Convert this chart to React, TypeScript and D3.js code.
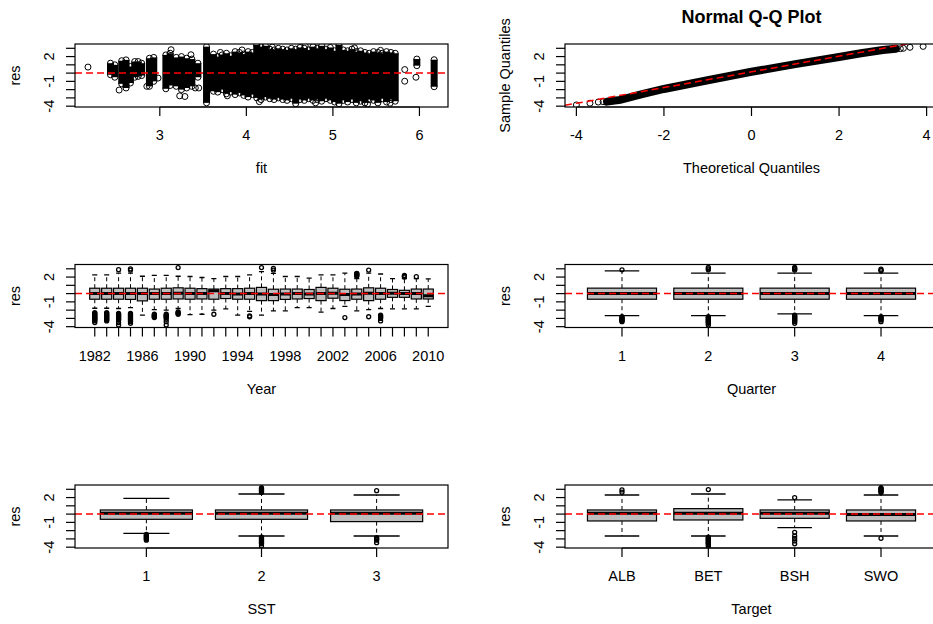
import React from 'react';
import * as d3 from 'd3';

const W = 933;
const H = 624;
const FONT = '"Liberation Sans", Arial, Helvetica, sans-serif';

// layout of the 3x2 grid of plot regions (R mfrow style)
const LEFT = [75, 565];
const TOP = [44, 264.5, 485];
const PW = 373;
const PH = 63;
const RES_DOMAIN: [number, number] = [-4.1, 3.52];

// residual axis
const resTicks = [-4, -3, -2, -1, 0, 1, 2, 3];
const resLabels = [-4, -1, 2];

// panel 1: fitted vs residuals
const fitTicks = [3, 4, 5, 6];
const colFit = [2.43, 2.48, 2.56, 2.61, 2.66, 2.71, 2.75, 2.79, 2.88, 2.93, 3.07, 3.12, 3.19, 3.25, 3.31, 3.37, 3.44, 3.54,
  3.62, 3.67, 3.72, 3.77, 3.82, 3.87, 3.92, 3.97, 4.02, 4.07, 4.12, 4.17, 4.22, 4.27, 4.32, 4.37, 4.42, 4.47, 4.52,
  4.57, 4.62, 4.67, 4.72, 4.77, 4.82, 4.87, 4.92, 4.97, 5.02, 5.07, 5.12, 5.17, 5.22, 5.27, 5.32, 5.37, 5.42, 5.47,
  5.52, 5.57, 5.62, 5.67, 5.72, 5.97, 6.17];
const colLo = [-0.2, -0.5, -1.3, -1.8, -1.2, -0.5, -0.4, -0.3, -1.6, -1.0, -1.9, -1.5, -1.6, -2.0, -1.8, -1.6, -0.5, -3.6,
  -2.2, -2.3, -2.0, -2.5, -2.3, -2.6, -2.4, -2.7, -2.9, -2.6, -3.0, -3.2, -2.9, -3.1, -3.2, -3.0, -3.2, -3.3, -3.1,
  -3.7, -3.2, -3.3, -3.1, -3.3, -3.2, -3.4, -3.1, -3.3, -3.5, -3.7, -3.3, -3.5, -3.2, -3.6, -3.4, -3.6, -3.2, -3.3,
  -3.6, -3.1, -3.5, -3.2, -3.4, 0.9, -1.65];
const colHi = [1.2, 1.0, 1.5, 1.6, 0.8, 1.4, 1.4, 1.2, 1.8, 1.9, 2.2, 2.4, 1.9, 2.0, 1.8, 1.7, 1.2, 3.2,
  2.3, 2.0, 2.2, 2.4, 2.1, 2.6, 2.5, 2.3, 2.6, 2.5, 3.4, 3.2, 3.3, 2.9, 2.8, 3.0, 2.9, 2.8, 3.0,
  2.9, 3.1, 3.0, 2.8, 3.2, 3.0, 3.3, 2.9, 3.1, 2.7, 3.4, 2.8, 2.7, 2.9, 2.6, 2.7, 2.5, 2.4, 2.6,
  2.5, 2.4, 2.6, 2.5, 2.4, 1.7, 1.62];
const loneFit = [2.17, 2.53, 2.85, 2.98, 3.13, 3.23, 3.29, 3.36, 3.41, 3.45, 5.83, 5.83, 5.96,
  3.7, 3.95, 4.3, 4.68, 5.25, 5.55, 3.78, 4.15, 4.8, 5.4, 5.66];
const loneRes = [0.73, -2.05, -1.6, -0.6, 2.83, -2.75, -2.83, 2.22, -1.8, -1.8, 0.43, -0.98, -0.5,
  2.5, 2.8, 3.15, 3.3, 3.05, 2.75, -2.75, -3.45, -3.6, -3.75, -3.65];

// panel 2: normal Q-Q
const qqTicks = [-4, -2, 0, 2, 4];
const qqBandTheo = [-3.3, -3.0, -2.5, -2.0, -1.0, 0.0, 1.0, 2.0, 2.5, 3.0, 3.3];
const qqBandSample = [-3.45, -3.24, -2.55, -1.92, -0.86, 0.16, 1.08, 1.94, 2.4, 2.8, 2.95];
const qqTailTheo = [-4.0, -3.69, -3.5, -3.39, 3.4, 3.47, 3.62, 3.92];
const qqTailSample = [-3.85, -3.64, -3.5, -3.45, 2.95, 3.0, 3.12, 3.23];
const qqIntercept = 0.15;
const qqSlope = 0.95;

// panel 3: Year
const years = d3.range(1982, 2011);
const yearHi = [2.27, 2.27, 2.47, 2.47, 2.1, 2.2, 2.2, 2.1, 2.07, 1.95, 1.8, 2.07, 2.07, 2.27, 2.67, 2.45, 2.07, 2.07, 1.87, 2.27, 2.27, 2.47, 1.8, 2.47, 2.37, 1.8, 1.8, 1.8, 1.78];
const yearQ3 = [0.65, 0.65, 0.65, 0.65, 0.65, 0.55, 0.65, 0.7, 0.65, 0.6, 0.55, 0.6, 0.6, 0.65, 0.75, 0.53, 0.55, 0.55, 0.5, 0.75, 0.65, 0.53, 0.55, 0.7, 0.65, 0.5, 0.4, 0.55, 0.55];
const yearMed = [0, 0, 0, 0, 0, 0, 0, 0.05, 0, 0, 0.35, 0, -0.05, 0, -0.05, -0.1, -0.05, 0, -0.05, 0, 0.05, -0.1, -0.05, 0.05, 0, 0.05, 0, 0, -0.25];
const yearQ1 = [-0.68, -0.68, -0.68, -0.7, -0.88, -0.68, -0.68, -0.65, -0.68, -0.65, -0.68, -0.6, -0.68, -0.68, -0.85, -0.85, -0.7, -0.65, -0.6, -0.85, -0.56, -0.84, -0.68, -0.85, -0.68, -0.45, -0.45, -0.65, -0.65];
const yearLo = [-1.77, -1.77, -1.8, -1.7, -2.6, -1.95, -2.0, -1.8, -2.55, -2.5, -2.0, -1.85, -2.6, -2.15, -2.6, -2.1, -2.1, -1.7, -1.7, -2.25, -1.8, -1.55, -2.1, -1.95, -1.8, -1.85, -1.85, -1.85, -1.55];
const yearOut = [
  [-2.3, -2.4, -2.5, -2.6, -2.7, -2.8, -2.9, -3.0, -3.1, -3.2, -3.3, -3.5],
  [-2.3, -2.4, -2.5, -2.6, -2.7, -2.8, -2.9, -3.0, -3.1, -3.2, -3.3],
  [2.9, -2.4, -2.5, -2.6, -2.7, -2.8, -2.9, -3.0, -3.1, -3.2, -3.5, -3.8],
  [3.0, 2.85, -2.4, -2.5, -2.6, -2.7, -2.8, -2.9, -3.0, -3.1, -3.2, -3.3, -3.4, -3.6],
  [],
  [-2.5, -2.6, -2.7, -2.8, -2.9],
  [-2.5, -2.6, -2.7, -2.8, -2.9, -3.1, -3.4, -3.8],
  [3.15, -2.2, -2.3, -2.4, -2.5],
  [], [],
  [-2.5],
  [], [],
  [-2.7, -2.8],
  [3.15],
  [2.85, 3.05],
  [], [], [], [], [],
  [-2.9],
  [2.1, 2.2, 2.3, 2.4, 2.45],
  [2.85, -2.8],
  [-2.6, -2.7, -2.8, -2.9, -3.0, -3.3],
  [],
  [2.0, 2.1, 2.2],
  [2.05],
  [],
];

// panel 4: Quarter
const quarters = ['1', '2', '3', '4'];
const qHi = [2.75, 2.47, 2.47, 2.47];
const qQ3 = [0.66, 0.66, 0.66, 0.66];
const qMed = [0, 0, 0, 0];
const qQ1 = [-0.68, -0.68, -0.68, -0.68];
const qLo = [-2.66, -2.66, -2.46, -2.66];
const qOut = [
  [2.88, -2.8, -2.9, -3.0, -3.1, -3.2, -3.3, -3.4],
  [3.16, 3.0, 2.88, -2.8, -2.9, -3.0, -3.1, -3.2, -3.3, -3.4, -3.5, -3.6, -3.8],
  [3.16, 3.05, 2.95, 2.85, -2.6, -2.7, -2.8, -2.9, -3.0, -3.1, -3.2, -3.3, -3.4, -3.6],
  [2.95, 2.85, 2.75, -2.8, -2.9, -3.0, -3.1, -3.2, -3.4],
];

// panel 5: SST
const sstLevels = ['1', '2', '3'];
const sHi = [1.91, 2.43, 2.31];
const sQ3 = [0.5, 0.5, 0.5];
const sMed = [0.09, 0.09, 0.09];
const sQ1 = [-0.63, -0.63, -0.91];
const sLo = [-2.33, -2.65, -2.65];
const sOut = [
  [-2.45, -2.55, -2.65, -2.75, -2.85, -2.95, -3.05, -3.15],
  [3.2, 3.1, 3.0, 2.9, 2.8, 2.7, 2.6, -2.8, -2.9, -3.0, -3.1, -3.2, -3.3, -3.4, -3.5, -3.6, -3.85],
  [2.83, -2.85, -2.95, -3.05, -3.15, -3.45],
];

// panel 6: Target
const targets = ['ALB', 'BET', 'BSH', 'SWO'];
const tHi = [2.31, 2.43, 1.71, 2.31];
const tQ3 = [0.5, 0.66, 0.5, 0.5];
const tMed = [0.09, 0.09, 0.09, -0.05];
const tQ1 = [-0.83, -0.71, -0.51, -0.83];
const tLo = [-2.65, -2.65, -1.64, -2.65];
const tOut = [
  [2.92, 2.65],
  [2.97, -2.8, -2.9, -3.0, -3.1, -3.2, -3.3, -3.4, -3.5, -3.6, -3.7, -3.9],
  [2.0, -2.2, -2.65, -2.95, -3.25, -3.6],
  [3.2, 3.1, 3.0, 2.9, 2.8, 2.7, 2.6, -2.93],
];

const FS = 14.5;

type Lin = d3.ScaleLinear<number, number>;

function Axes({ left, top, x, xTicks, xLabels, xTitle, yTitle, title }: {
  left: number; top: number; x: Lin; xTicks: number[]; xLabels: string[];
  xTitle: string; yTitle: string; title?: string;
}) {
  const y = d3.scaleLinear().domain(RES_DOMAIN).range([top + PH, top]);
  const bottom = top + PH;
  return (
    <g fontFamily={FONT} fontSize={FS} fill="#000">
      <rect x={left} y={top} width={PW} height={PH} fill="none" stroke="#000" strokeWidth={1.2} />
      {resTicks.map(t => (
        <line key={'yt' + t} x1={left - 9} x2={left} y1={y(t)} y2={y(t)} stroke="#000" strokeWidth={1.2} />
      ))}
      {resLabels.map(t => (
        <text key={'yl' + t} transform={`translate(${left - 21},${y(t)}) rotate(-90)`} textAnchor="middle">{t}</text>
      ))}
      <line x1={x(xTicks[0])} x2={x(xTicks[xTicks.length - 1])} y1={bottom} y2={bottom} stroke="#000" strokeWidth={1.2} />
      {xTicks.map((t, i) => (
        <g key={'xt' + i}>
          <line x1={x(t)} x2={x(t)} y1={bottom} y2={bottom + 9} stroke="#000" strokeWidth={1.2} />
          {xLabels[i] ? <text x={x(t)} y={bottom + 33} textAnchor="middle">{xLabels[i]}</text> : null}
        </g>
      ))}
      <text x={left + PW / 2} y={bottom + 66} textAnchor="middle">{xTitle}</text>
      <text transform={`translate(${left - 55},${top + PH / 2}) rotate(-90)`} textAnchor="middle">{yTitle}</text>
      {title ? (
        <text x={left + PW / 2} y={top - 21} textAnchor="middle" fontWeight="bold" fontSize={18}>{title}</text>
      ) : null}
    </g>
  );
}

function ZeroLine({ left, y }: { left: number; y: Lin }) {
  return <line x1={left} x2={left + PW} y1={y(0)} y2={y(0)} stroke="#ff0000" strokeWidth={1.5} strokeDasharray="7,4" />;
}

function Boxes({ x, y, hi, q3, med, q1, lo, out, wex }: {
  x: Lin; y: Lin; hi: number[]; q3: number[]; med: number[]; q1: number[]; lo: number[]; out: number[][]; wex: number;
}) {
  const unit = Math.abs(x(2) - x(1));
  const bw = unit * wex;
  const cw = bw / 2;
  return (
    <g>
      {hi.map((_, i) => {
        const cx = x(i + 1);
        return (
          <g key={i}>
            <line x1={cx} x2={cx} y1={y(q3[i])} y2={y(hi[i])} stroke="#000" strokeDasharray="4,3" />
            <line x1={cx} x2={cx} y1={y(q1[i])} y2={y(lo[i])} stroke="#000" strokeDasharray="4,3" />
            <line x1={cx - cw / 2} x2={cx + cw / 2} y1={y(hi[i])} y2={y(hi[i])} stroke="#000" strokeWidth={1.3} />
            <line x1={cx - cw / 2} x2={cx + cw / 2} y1={y(lo[i])} y2={y(lo[i])} stroke="#000" strokeWidth={1.3} />
            <rect x={cx - bw / 2} y={y(q3[i])} width={bw} height={y(q1[i]) - y(q3[i])}
              fill="#bebebe" stroke="#000" strokeWidth={1.2} />
            <line x1={cx - bw / 2} x2={cx + bw / 2} y1={y(med[i])} y2={y(med[i])} stroke="#000" strokeWidth={3} />
            {out[i].map((v, j) => (
              <circle key={j} cx={cx} cy={y(v)} r={2} fill="none" stroke="#000" strokeWidth={1.3} />
            ))}
          </g>
        );
      })}
    </g>
  );
}

const groupScale = (n: number, left: number) =>
  d3.scaleLinear().domain([0.5 - 0.04 * n, n + 0.5 + 0.04 * n]).range([left, left + PW]);

export default function App() {
  const yRow = (r: number) => d3.scaleLinear().domain(RES_DOMAIN).range([TOP[r] + PH, TOP[r]]);

  // panel 1
  const x1 = d3.scaleLinear().domain([2.02, 6.33]).range([LEFT[0], LEFT[0] + PW]);
  const y1 = yRow(0);
  // panel 2
  const x2 = d3.scaleLinear().domain([-4.26, 4.26]).range([LEFT[1], LEFT[1] + PW]);
  const y2 = yRow(0);
  const band = d3.line<number>().x((_, i) => x2(qqBandTheo[i])).y(d => y2(d))(qqBandSample) || '';
  // boxplot panels
  const xYear = groupScale(years.length, LEFT[0]);
  const xQ = groupScale(quarters.length, LEFT[1]);
  const xS = groupScale(sstLevels.length, LEFT[0]);
  const xT = groupScale(targets.length, LEFT[1]);
  const y3 = yRow(1);
  const y5 = yRow(2);

  const clip = (id: string, l: number, t: number) => (
    <clipPath id={id}><rect x={l} y={t} width={PW} height={PH} /></clipPath>
  );

  return (
    <svg width={W} height={H} style={{ position: 'absolute', left: 0, top: 0, background: '#fff' }}>
      <defs>
        {clip('c1', LEFT[0], TOP[0])}
        {clip('c2', LEFT[1], TOP[0])}
        {clip('c3', LEFT[0], TOP[1])}
        {clip('c4', LEFT[1], TOP[1])}
        {clip('c5', LEFT[0], TOP[2])}
        {clip('c6', LEFT[1], TOP[2])}
      </defs>
      <rect x={0} y={0} width={W} height={H} fill="#fff" />

      {/* fit vs residuals */}
      <g clipPath="url(#c1)">
        {colFit.map((f, i) => (
          <g key={i}>
            <line x1={x1(f)} x2={x1(f)} y1={y1(colLo[i])} y2={y1(colHi[i])} stroke="#000" strokeWidth={7} />
            <circle cx={x1(f)} cy={y1(colHi[i])} r={3} fill="none" stroke="#000" />
            <circle cx={x1(f)} cy={y1(colLo[i])} r={3} fill="none" stroke="#000" />
          </g>
        ))}
        {loneFit.map((f, i) => (
          <circle key={'p' + i} cx={x1(f)} cy={y1(loneRes[i])} r={3} fill="none" stroke="#000" />
        ))}
        <ZeroLine left={LEFT[0]} y={y1} />
      </g>
      <Axes left={LEFT[0]} top={TOP[0]} x={x1} xTicks={fitTicks} xLabels={fitTicks.map(String)} xTitle="fit" yTitle="res" />

      {/* normal Q-Q */}
      <g clipPath="url(#c2)">
        <path d={band} fill="none" stroke="#000" strokeWidth={8} strokeLinecap="round" />
        {qqTailTheo.map((t, i) => (
          <circle key={i} cx={x2(t)} cy={y2(qqTailSample[i])} r={3} fill="none" stroke="#000" />
        ))}
        <line x1={x2(-4.26)} x2={x2(4.26)} y1={y2(qqIntercept + qqSlope * -4.26)} y2={y2(qqIntercept + qqSlope * 4.26)}
          stroke="#ff0000" strokeWidth={1.5} strokeDasharray="7,4" />
      </g>
      <Axes left={LEFT[1]} top={TOP[0]} x={x2} xTicks={qqTicks} xLabels={qqTicks.map(String)}
        xTitle="Theoretical Quantiles" yTitle="Sample Quantiles" title="Normal Q-Q Plot" />

      {/* Year */}
      <g clipPath="url(#c3)">
        <Boxes x={xYear} y={y3} hi={yearHi} q3={yearQ3} med={yearMed} q1={yearQ1} lo={yearLo} out={yearOut} wex={0.85} />
        <ZeroLine left={LEFT[0]} y={y3} />
      </g>
      <Axes left={LEFT[0]} top={TOP[1]} x={xYear} xTicks={years.map((_, i) => i + 1)}
        xLabels={years.map((yr, i) => (i % 4 === 0 ? String(yr) : ''))} xTitle="Year" yTitle="res" />

      {/* Quarter */}
      <g clipPath="url(#c4)">
        <Boxes x={xQ} y={y3} hi={qHi} q3={qQ3} med={qMed} q1={qQ1} lo={qLo} out={qOut} wex={0.8} />
        <ZeroLine left={LEFT[1]} y={y3} />
      </g>
      <Axes left={LEFT[1]} top={TOP[1]} x={xQ} xTicks={quarters.map((_, i) => i + 1)} xLabels={quarters}
        xTitle="Quarter" yTitle="res" />

      {/* SST */}
      <g clipPath="url(#c5)">
        <Boxes x={xS} y={y5} hi={sHi} q3={sQ3} med={sMed} q1={sQ1} lo={sLo} out={sOut} wex={0.8} />
        <ZeroLine left={LEFT[0]} y={y5} />
      </g>
      <Axes left={LEFT[0]} top={TOP[2]} x={xS} xTicks={sstLevels.map((_, i) => i + 1)} xLabels={sstLevels}
        xTitle="SST" yTitle="res" />

      {/* Target */}
      <g clipPath="url(#c6)">
        <Boxes x={xT} y={y5} hi={tHi} q3={tQ3} med={tMed} q1={tQ1} lo={tLo} out={tOut} wex={0.8} />
        <ZeroLine left={LEFT[1]} y={y5} />
      </g>
      <Axes left={LEFT[1]} top={TOP[2]} x={xT} xTicks={targets.map((_, i) => i + 1)} xLabels={targets}
        xTitle="Target" yTitle="res" />
    </svg>
  );
}
